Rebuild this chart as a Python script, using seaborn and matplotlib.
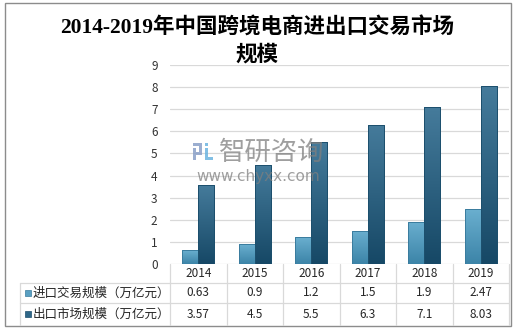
import numpy as np
import pandas as pd
import matplotlib
matplotlib.use("Agg")
import matplotlib.pyplot as plt
import seaborn as sns
import matplotlib.transforms as mtransforms
from matplotlib.patches import Rectangle
from matplotlib.lines import Line2D
from matplotlib.colors import LinearSegmentedColormap

# ---------------- data ----------------
years = ["2014", "2015", "2016", "2017", "2018", "2019"]
import_vals = [0.63, 0.9, 1.2, 1.5, 1.9, 2.47]
export_vals = [3.57, 4.5, 5.5, 6.3, 7.1, 8.03]
series_names = ["进口交易规模（万亿元）", "出口市场规模（万亿元）"]
yticks = [0, 1, 2, 3, 4, 5, 6, 7, 8, 9]
title_line1 = "2014-2019年中国跨境电商进出口交易市场"
title_line2 = "规模"
import_labels = ["0.63", "0.9", "1.2", "1.5", "1.9", "2.47"]
export_labels = ["3.57", "4.5", "5.5", "6.3", "7.1", "8.03"]

df = pd.DataFrame({
    "year": years * 2,
    "value": import_vals + export_vals,
    "series": [series_names[0]] * len(years) + [series_names[1]] * len(years),
})

# ---------------- style ----------------
sns.set_theme(style="white")
plt.rcParams["font.family"] = ["Noto Sans CJK SC", "DejaVu Sans"]

W, H = 517, 330
fig = plt.figure(figsize=(W / 100, H / 100), dpi=100)
fx = lambda px: px / W
fy = lambda py: 1 - py / H

ax_left, ax_right, ax_top, ax_bot = 170, 509, 65, 264
ax = fig.add_axes([fx(ax_left), fy(ax_bot), (ax_right - ax_left) / W, (ax_bot - ax_top) / H])

light = "#4f97ba"
dark = "#2b6688"
sns.barplot(data=df, x="year", y="value", hue="series", palette=[light, dark],
            width=0.57, gap=0, dodge=True, saturation=1, ax=ax, legend=False,
            edgecolor="none", linewidth=0, zorder=2)

ax.set_ylim(0, 9)
ax.set_xlim(-0.5, len(years) - 0.5)
ax.set_yticks(yticks)
ax.set_yticklabels([str(t) for t in yticks], fontsize=8.5, color="#333333")
ax.set_xticks([])
ax.set_xlabel("")
ax.set_ylabel("")
ax.tick_params(axis="y", length=0, pad=9)
for s in ax.spines.values():
    s.set_visible(False)
ax.yaxis.grid(True, color="#d9d9d9", linewidth=0.9)
ax.set_axisbelow(True)

# gradient fill for bars
cm_light = LinearSegmentedColormap.from_list("l", ["#3c84a8", "#6aafcf"])
cm_dark = LinearSegmentedColormap.from_list("d", ["#164866", "#457b9b"])
grad = np.linspace(0, 1, 100).reshape(-1, 1)
for p in list(ax.patches):
    fc = matplotlib.colors.to_hex(p.get_facecolor())
    cmap = cm_light if fc == matplotlib.colors.to_hex(light) else cm_dark
    ec = "#3a7c9e" if cmap is cm_light else "#1c4f6d"
    x0, y0 = p.get_x(), p.get_y()
    w, h = p.get_width(), p.get_height()
    im = ax.imshow(grad, extent=[x0, x0 + w, y0, y0 + h], origin="lower",
                   cmap=cmap, aspect="auto", zorder=3)
    im.set_clip_path(p)
    ax.add_patch(Rectangle((x0, y0), w, h, fill=False, edgecolor=ec,
                           linewidth=0.7, zorder=4))
ax.set_ylim(0, 9)
ax.set_xlim(-0.5, len(years) - 0.5)

# ---------------- title ----------------
tfam = ["Liberation Serif", "Noto Sans CJK SC"]
fig.text(fx(257), fy(28), title_line1, ha="center", va="center", fontsize=15.5,
         fontweight="bold", family=tfam, color="#000000")
fig.text(fx(257), fy(55), title_line2, ha="center", va="center", fontsize=15.5,
         fontweight="bold", family=tfam, color="#000000")

# ---------------- data table ----------------
bt = mtransforms.blended_transform_factory(ax.transData, fig.transFigure)
gc = "#d9d9d9"
row_lines = [283, 303]
for ry in row_lines:
    fig.add_artist(Line2D([fx(20), fx(ax_right)], [fy(ry), fy(ry)], color=gc, lw=0.9))
fig.add_artist(Line2D([fx(20), fx(20)], [fy(283), fy(325)], color=gc, lw=0.9))
for b in np.arange(-0.5, len(years), 1.0):
    fig.add_artist(Line2D([b, b], [fy(264), fy(325)], color=gc, lw=0.9, transform=bt))

tc = "#262626"
for i, y in enumerate(years):
    fig.text(i, fy(273.5), y, transform=bt, ha="center", va="center", fontsize=8.5, color=tc)
    fig.text(i, fy(293), import_labels[i], transform=bt, ha="center", va="center", fontsize=8.5, color=tc)
    fig.text(i, fy(314), export_labels[i], transform=bt, ha="center", va="center", fontsize=8.5, color=tc)

for ry, name, col, ec in [(293, series_names[0], "#5aa0c2", "#3a7c9e"),
                          (314, series_names[1], "#2f6788", "#1c4f6d")]:
    fig.add_artist(Rectangle((fx(25), fy(ry + 3)), 6 / W, 6 / H, transform=fig.transFigure,
                             facecolor=col, edgecolor=ec, lw=0.5))
    fig.text(fx(32.5), fy(ry), name, ha="left", va="center", fontsize=9, color=tc)

# ---------------- watermark ----------------
wm = "#7f7f7f"
fig.text(fx(272), fy(152), "智研咨询", ha="center", va="center", fontsize=19,
         color=wm, alpha=0.75, zorder=10)
fig.text(fx(258), fy(176), "www.chyxx.com", ha="center", va="center", fontsize=11,
         color=wm, alpha=0.75, zorder=10, family="DejaVu Sans")
# simple logo blocks
for (lx, ly, lw_, lh_, c) in [(193, 143, 9, 3, "#8aa0c8"), (193, 148, 3, 12, "#8aa0c8"),
                               (199, 146, 3, 6, "#8aa0c8"), (196, 152, 6, 3, "#8aa0c8"),
                               (205, 143, 3, 3, "#6cb4e0"), (205, 148, 3, 12, "#6cb4e0"),
                               (208, 157, 5, 3, "#6cb4e0")]:
    fig.add_artist(Rectangle((fx(lx), fy(ly + lh_)), lw_ / W, lh_ / H,
                             transform=fig.transFigure, facecolor=c, edgecolor="none",
                             alpha=0.85, zorder=10))

# ---------------- outer border ----------------
fig.add_artist(Rectangle((fx(4.5), fy(325.5)), (510.5 - 4.5) / W, (325.5 - 2.5) / H,
                         transform=fig.transFigure, fill=False, edgecolor="#8c8c8c", lw=1.0))

fig.savefig("out.png", dpi=100)
